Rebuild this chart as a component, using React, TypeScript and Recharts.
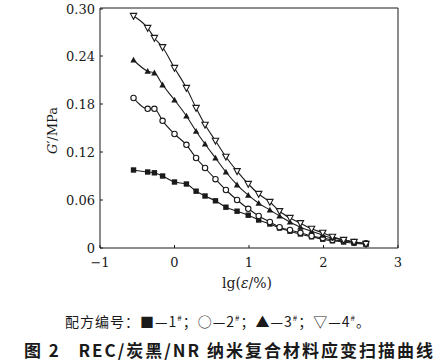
import React from 'react';
import { LineChart, Line, XAxis, YAxis, ReferenceLine } from 'recharts';

// lg(strain/%) of the sweep points
const lgStrain = [-0.55, -0.36, -0.27, -0.16, 0, 0.16, 0.29, 0.41, 0.55, 0.69, 0.84, 0.99, 1.13, 1.28, 1.41, 1.55, 1.69, 1.84, 1.99, 2.12, 2.27, 2.41, 2.57];

// G' (MPa) for formulas 1# .. 4#
const g1 = [0.0975, 0.095, 0.094, 0.09, 0.0825, 0.08, 0.071, 0.065, 0.059, 0.051, 0.046, 0.041, 0.035, 0.03, 0.025, 0.021, 0.0175, 0.014, 0.011, 0.009, 0.0075, 0.006, 0.005];
const g2 = [0.1875, 0.174, 0.174, 0.159, 0.1425, 0.129, 0.1125, 0.1, 0.086, 0.0725, 0.06, 0.049, 0.04, 0.0325, 0.026, 0.0225, 0.019, 0.015, 0.0125, 0.01, 0.009, 0.0075, 0.006];
const g3 = [0.235, 0.221, 0.219, 0.204, 0.185, 0.165, 0.146, 0.13, 0.1125, 0.095, 0.079, 0.066, 0.056, 0.0475, 0.04, 0.0325, 0.026, 0.021, 0.016, 0.0125, 0.01, 0.0075, 0.005];
const g4 = [0.29, 0.275, 0.2625, 0.251, 0.225, 0.2, 0.175, 0.154, 0.134, 0.114, 0.096, 0.08, 0.0675, 0.0575, 0.046, 0.0375, 0.031, 0.024, 0.019, 0.014, 0.01, 0.0075, 0.005];

const xTicks = [-1, 0, 1, 2, 3];
const yTicks = [0, 0.06, 0.12, 0.18, 0.24, 0.3];

const data = lgStrain.map((x, i) => ({ x, g1: g1[i], g2: g2[i], g3: g3[i], g4: g4[i] }));

const FONT = '"DejaVu Serif", "Liberation Serif", serif';
const CJK = '"Noto Sans CJK SC", sans-serif';
const INK = '#1a1a1a';

const fmtY = (v: number) => (v === 0 ? '0' : v.toFixed(2));
const fmtX = (v: number) => (v < 0 ? `\u2212${Math.abs(v)}` : `${v}`);

const XTick = (props: any) => {
  const { x, y, payload } = props;
  return (
    <g>
      <line x1={x} y1={y} x2={x} y2={y - 3} stroke={INK} />
      <text x={x} y={y + 19} textAnchor="middle" fontFamily={FONT} fontSize={13} fill={INK}>
        {fmtX(payload.value)}
      </text>
    </g>
  );
};

const YTick = (props: any) => {
  const { x, y, payload } = props;
  return (
    <g>
      <line x1={x} y1={y} x2={x + 3} y2={y} stroke={INK} />
      <text x={x - 5} y={y + 4.5} textAnchor="end" fontFamily={FONT} fontSize={13} fill={INK}>
        {fmtY(payload.value)}
      </text>
    </g>
  );
};

const marker = (shape: string) => (props: any) => {
  const { cx, cy, index } = props;
  if (cx == null || cy == null) return <g key={index} />;
  if (shape === 'square') {
    return <rect key={index} x={cx - 2.7} y={cy - 2.7} width={5.4} height={5.4} fill={INK} />;
  }
  if (shape === 'circle') {
    return <circle key={index} cx={cx} cy={cy} r={2.7} fill="#fff" stroke={INK} strokeWidth={1.1} />;
  }
  if (shape === 'up') {
    return <path key={index} d={`M${cx},${cy - 3.3}L${cx + 3.2},${cy + 2.6}L${cx - 3.2},${cy + 2.6}Z`} fill={INK} />;
  }
  return (
    <path key={index} d={`M${cx - 3.2},${cy - 2.6}L${cx + 3.2},${cy - 2.6}L${cx},${cy + 3.3}Z`} fill="#fff" stroke={INK} strokeWidth={1.1} />
  );
};

const sup = { fontSize: 8 };

export default function App() {
  return (
    <div style={{ position: 'fixed', left: 0, top: 0, width: 444, height: 364, background: '#fff', fontFamily: FONT }}>
      <LineChart width={444} height={300} data={data} margin={{ top: 8, right: 46, bottom: 22, left: 0 }}>
        <XAxis
          dataKey="x"
          type="number"
          domain={[-1, 3]}
          ticks={xTicks}
          tick={<XTick />}
          tickSize={0}
          tickMargin={0}
          axisLine={{ stroke: INK }}
          tickLine={false}
          height={30}
          allowDataOverflow
        />
        <YAxis
          type="number"
          domain={[0, 0.3]}
          ticks={yTicks}
          tick={<YTick />}
          tickSize={0}
          tickMargin={0}
          axisLine={{ stroke: INK }}
          tickLine={false}
          width={100}
        />
        <ReferenceLine y={0.3} stroke={INK} />
        <ReferenceLine x={3} stroke={INK} />
        <Line type="monotone" dataKey="g1" stroke={INK} strokeWidth={1.1} dot={marker('square')} isAnimationActive={false} />
        <Line type="monotone" dataKey="g2" stroke={INK} strokeWidth={1.1} dot={marker('circle')} isAnimationActive={false} />
        <Line type="monotone" dataKey="g3" stroke={INK} strokeWidth={1.1} dot={marker('up')} isAnimationActive={false} />
        <Line type="monotone" dataKey="g4" stroke={INK} strokeWidth={1.1} dot={marker('down')} isAnimationActive={false} />
      </LineChart>
      <div
        style={{ position: 'absolute', left: 40, top: 118, width: 24, height: 24, display: 'flex', alignItems: 'center', justifyContent: 'center' }}
      >
        <span style={{ transform: 'rotate(-90deg)', whiteSpace: 'nowrap', fontSize: 13, color: INK }}>
          <i>G</i>′/MPa
        </span>
      </div>
      <div style={{ position: 'absolute', left: 200, top: 275, width: 94, textAlign: 'center', fontSize: 14, color: INK }}>
        lg(<i>ε</i>/%)
      </div>
      <div
        style={{ position: 'absolute', left: 0, top: 311, width: 436, textAlign: 'center', fontSize: 14, letterSpacing: 1, color: INK, fontFamily: CJK, whiteSpace: 'nowrap' }}
      >
        配方编号：■—1<sup style={sup}>#</sup>；○—2<sup style={sup}>#</sup>；▲—3<sup style={sup}>#</sup>；▽—4<sup style={sup}>#</sup>。
      </div>
      <div
        style={{ position: 'absolute', left: 24, top: 337, width: 420, fontSize: 17, letterSpacing: 2, fontWeight: 700, color: INK, fontFamily: CJK, whiteSpace: 'nowrap' }}
      >
        图 2&nbsp;&nbsp; REC/炭黑/NR 纳米复合材料应变扫描曲线
      </div>
    </div>
  );
}
